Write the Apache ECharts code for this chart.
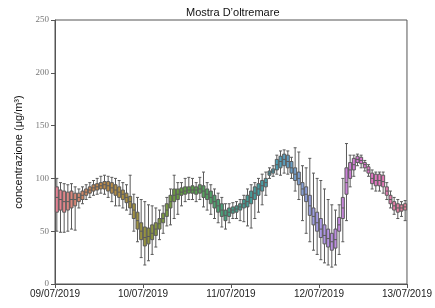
<!DOCTYPE html>
<html>
<head>
<meta charset="utf-8">
<script src="https://cdn.jsdelivr.net/npm/echarts@6/dist/echarts.min.js"></script>
<style>
  html, body { margin: 0; padding: 0; background: #fff; }
  #main { width: 435px; height: 308px; }
</style>
</head>
<body>
<div id="main"></div>
<script>
// valori orari (µg/m3): min, q1, mediana, q3, max
var boxMin = [50,49,49,50,52,51,72,76,80,82, 84,85,86,85,82,78,74,74,72,70, 66,50,40,25,18,22,28,35,42,48,
  55,56,62,66,74,78,80,80,78,80, 73,70,66,62,58,54,52,58,62,62, 60,59,55,53,62,68,75,84,100,102,
  104,103,105,104,100,88,80,60,48,40, 32,28,23,20,18,16,18,28,40,60, 92,102,112,110,107,102,90,88,88,86,
  80,72,66,62,64,60];
var boxQ1 = [68,70,68,70,72,74,78,80,84,86, 88,89,90,90,88,86,84,82,80,77, 72,62,52,42,36,38,42,46,52,58,
  64,72,78,80,84,85,86,86,85,86, 82,80,76,72,68,64,60,64,67,68, 70,72,73,76,80,84,88,92,103,105,
  108,110,112,110,105,98,94,84,78,65, 56,50,44,38,35,32,34,50,62,85, 100,108,115,114,110,105,95,93,93,92,
  84,76,70,68,69,70];
var boxMed = [82,80,78,78,80,80,82,84,87,89, 91,92,93,94,93,91,89,87,85,82, 78,70,60,50,44,45,48,52,57,62,
  70,78,84,85,87,88,89,89,89,90, 88,85,82,78,74,70,65,68,70,71, 73,76,78,82,86,90,93,96,105,107,
  113,116,118,116,110,104,100,90,85,74, 64,58,52,46,43,40,42,56,72,96, 108,113,118,117,113,108,100,98,98,97,
  88,80,74,72,72,73];
var boxQ3 = [92,89,88,87,88,86,86,88,90,92, 94,95,96,97,97,96,94,92,89,86, 83,76,68,58,54,53,56,58,62,67,
  76,84,90,90,91,92,92,93,92,94, 93,90,88,84,80,76,70,72,73,74, 76,80,84,88,92,95,98,100,107,109,
  118,121,123,122,116,110,106,96,92,84, 72,68,62,56,52,48,52,63,82,110, 115,119,121,120,115,111,105,104,104,103,
  92,84,78,76,75,76];
var boxMax = [100,96,95,94,95,92,90,92,94,96, 98,100,102,103,102,101,100,98,96,94, 103,85,82,80,78,75,74,72,70,74,
  82,90,103,96,96,100,101,100,96,101, 106,96,94,90,86,82,76,76,77,78, 80,84,90,94,96,100,104,106,110,112,
  122,126,127,126,120,129,125,112,110,119, 105,100,98,90,80,75,70,75,100,133, 122,122,123,122,117,113,108,106,106,106,
  96,88,82,80,78,79];
var dayLabels = ['09/07/2019', '10/07/2019', '11/07/2019', '12/07/2019', '13/07/2019'];
var hours = boxMin.map(function(v, i) { return i; });

// palette circolare tipo husl, desaturata
var anchors = ['#f77189','#d58c32','#a4a031','#50b131','#34ae91','#37abc8','#a48cf4','#f561dd'];
function hexRgb(h) {
  return [parseInt(h.substr(1,2),16), parseInt(h.substr(3,2),16), parseInt(h.substr(5,2),16)];
}
function desat(rgb, f) {
  var r = rgb[0]/255, g = rgb[1]/255, b = rgb[2]/255;
  var mx = Math.max(r,g,b), mn = Math.min(r,g,b);
  var l = (mx+mn)/2, s = 0, h = 0, d = mx-mn;
  if (d > 0) {
    s = l > 0.5 ? d/(2-mx-mn) : d/(mx+mn);
    if (mx === r) h = (g-b)/d + (g < b ? 6 : 0);
    else if (mx === g) h = (b-r)/d + 2;
    else h = (r-g)/d + 4;
    h /= 6;
  }
  s *= f;
  function hue(p, q, t) {
    if (t < 0) t += 1; if (t > 1) t -= 1;
    if (t < 1/6) return p + (q-p)*6*t;
    if (t < 1/2) return q;
    if (t < 2/3) return p + (q-p)*(2/3-t)*6;
    return p;
  }
  var q = l < 0.5 ? l*(1+s) : l+s-l*s, p = 2*l-q;
  return 'rgb(' + Math.round(hue(p,q,h+1/3)*255) + ',' + Math.round(hue(p,q,h)*255) + ',' + Math.round(hue(p,q,h-1/3)*255) + ')';
}
function colorAt(i, n) {
  var pos = i / n * anchors.length;
  var k = Math.floor(pos), t = pos - k;
  var a = hexRgb(anchors[k % anchors.length]), b = hexRgb(anchors[(k+1) % anchors.length]);
  return desat([a[0]+(b[0]-a[0])*t, a[1]+(b[1]-a[1])*t, a[2]+(b[2]-a[2])*t], 0.75);
}

var boxData = hours.map(function(i) {
  return {
    value: [boxMin[i], boxQ1[i], boxMed[i], boxQ3[i], boxMax[i]],
    itemStyle: { color: colorAt(i, hours.length) }
  };
});

var myChart = echarts.init(document.getElementById('main'));
myChart.setOption({
  animation: false,
  title: {
    text: 'Mostra D’oltremare',
    left: 181, top: 2,
    textStyle: { fontFamily: 'Liberation Sans', fontSize: 11, fontWeight: 'normal', color: '#111' }
  },
  grid: { left: 55, right: 28, top: 20, bottom: 24, show: true, borderColor: '#555', borderWidth: 1 },
  xAxis: [{
    type: 'category',
    data: hours,
    show: false,
    boundaryGap: true
  }, {
    type: 'value',
    min: 0, max: 96, interval: 24,
    position: 'bottom',
    splitLine: { show: false },
    axisLine: { show: true, lineStyle: { color: '#555' } },
    axisTick: { show: true, inside: false, length: 4, lineStyle: { color: '#555' } },
    axisLabel: {
      showMinLabel: true, showMaxLabel: true,
      fontFamily: 'Liberation Sans', fontSize: 10, color: '#222', margin: 5,
      formatter: function(v) { return dayLabels[v / 24]; }
    }
  }],
  yAxis: {
    type: 'value',
    min: 0, max: 250, interval: 50,
    name: 'concentrazione (μg/m³)',
    nameLocation: 'middle',
    nameGap: 30,
    nameTextStyle: { fontFamily: 'Liberation Sans', fontSize: 11, color: '#111' },
    splitLine: { show: false },
    axisLine: { show: true, lineStyle: { color: '#555' } },
    axisTick: { show: true, length: 4, lineStyle: { color: '#555' } },
    axisLabel: { fontFamily: 'Liberation Serif', fontSize: 9, color: '#777', margin: 6 }
  },
  series: [{
    type: 'boxplot',
    xAxisIndex: 0,
    boxWidth: [3, 3],
    itemStyle: { borderColor: '#5a5a5a', borderWidth: 1 },
    data: boxData
  }]
});
</script>
</body>
</html>
